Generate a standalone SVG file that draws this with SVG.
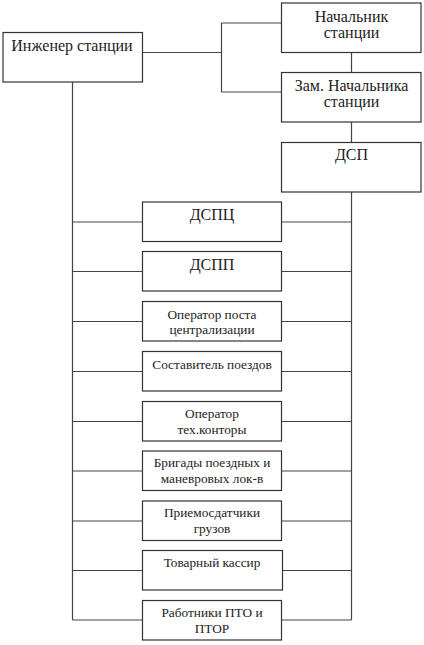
<svg xmlns="http://www.w3.org/2000/svg" width="424" height="645" viewBox="0 0 424 645">
<style>
rect{fill:#fff;stroke:#333;stroke-width:1.2}
#connectors path{fill:none;stroke:#444;stroke-width:1.2}
text{fill:#222;text-anchor:middle}
.b{font-size:16px}
.s{font-size:13.3px}
</style>
<rect x="0" y="0" width="424" height="645" style="fill:#fff;stroke:none"/>
<g id="connectors">
<path d="M142.5 52.5H221.5M221.5 23H282M221.5 23V92M221.5 92H282"/>
<path d="M351.5 52V73M351.5 122V143M351.5 192V620"/>
<path d="M72.5 82V620"/>
<path d="M72.5 222H142M281.5 222H351.5M72.5 271.5H142M281.5 271.5H351.5M72.5 321.5H142M281.5 321.5H351.5M72.5 371.5H142M281.5 371.5H351.5M72.5 421.5H142M281.5 421.5H351.5M72.5 471H142M281.5 471H351.5M72.5 521H142M281.5 521H351.5M72.5 570.5H142M282.5 570.5H351.5M72.5 620H142M281.5 620H351.5"/>
</g>
<g font-family="Liberation Serif, Times New Roman, DejaVu Serif, serif">
<g id="n-engineer"><rect x="3" y="32.5" width="139.5" height="49.5"/><text class="b" x="72" y="51">Инженер станции</text></g>
<g id="n-chief"><rect x="281.5" y="3" width="139.5" height="49.5"/><text class="b" x="351.5" y="21.5">Начальник</text><text class="b" x="351.5" y="38">станции</text></g>
<g id="n-deputy"><rect x="281.5" y="72.5" width="139.5" height="49.5"/><text class="b" x="351.5" y="90.5">Зам. Начальника</text><text class="b" x="351.5" y="107">станции</text></g>
<g id="n-dsp"><rect x="281.5" y="142.5" width="139.5" height="49.5"/><text class="b" x="351.5" y="160">ДСП</text></g>
<g id="n-dspc"><rect x="142.5" y="202" width="139" height="39.5"/><text class="b" x="212" y="219.5">ДСПЦ</text></g>
<g id="n-dspp"><rect x="142.5" y="251.5" width="139" height="39.5"/><text class="b" x="212" y="269.5">ДСПП</text></g>
<g id="n-op-post"><rect x="142.5" y="301.5" width="139" height="39.5"/><text class="s" x="212" y="319">Оператор поста</text><text class="s" x="212" y="333.5">централизации</text></g>
<g id="n-sostav"><rect x="142.5" y="351.5" width="139" height="39.5"/><text class="s" x="212" y="368.5">Составитель поездов</text></g>
<g id="n-op-teh"><rect x="142.5" y="401.5" width="139" height="39.5"/><text class="s" x="212" y="417.5">Оператор</text><text class="s" x="212" y="433.5">тех.конторы</text></g>
<g id="n-brig"><rect x="142.5" y="451" width="139" height="39.5"/><text class="s" x="212" y="467">Бригады поездных и</text><text class="s" x="212" y="483">маневровых лок-в</text></g>
<g id="n-priem"><rect x="142.5" y="501" width="139" height="39.5"/><text class="s" x="212" y="517">Приемосдатчики</text><text class="s" x="212" y="533">грузов</text></g>
<g id="n-kassir"><rect x="142.5" y="550.5" width="140" height="39.5"/><text class="s" x="212" y="567">Товарный кассир</text></g>
<g id="n-pto"><rect x="142.5" y="600.5" width="139" height="39.5"/><text class="s" x="212" y="616.5">Работники ПТО и</text><text class="s" x="212" y="632.5">ПТОР</text></g>
</g>
</svg>
